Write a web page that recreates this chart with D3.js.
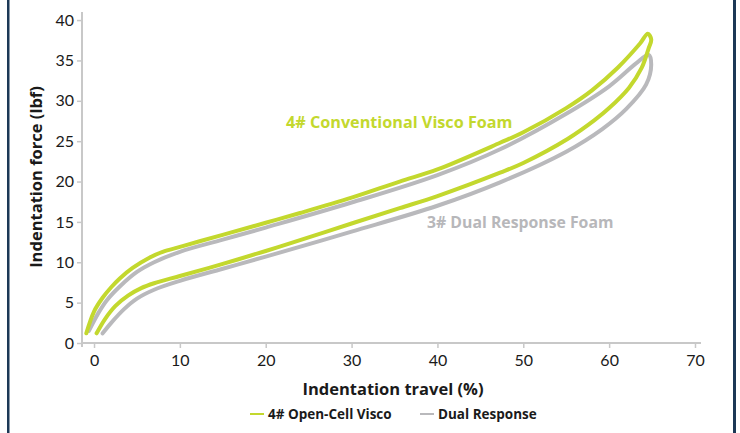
<!DOCTYPE html>
<html>
<head>
<meta charset="utf-8">
<script src="https://cdn.jsdelivr.net/npm/d3@7"></script>
<style>
  body { margin: 0; background: #fff; }
  svg { display: block; font-family: "Open Sans", Lato, sans-serif; }
</style>
</head>
<body>
<svg id="chart" width="740" height="433"></svg>
<script>
// Hysteresis loops, [travel %, force lbf], loading then unloading
const viscoLoop = [
  [-0.9, 1.2], [0, 3.9], [1, 5.6], [2, 6.9], [3, 8.0], [4.5, 9.3], [6.5, 10.6],
  [8, 11.3], [10, 11.9], [12.3, 12.6], [16, 13.7], [20, 14.9], [24, 16.1],
  [30, 18.0], [35.6, 20.0], [40, 21.5], [47.3, 24.8], [50, 26.1], [55, 29.1],
  [58, 31.3], [61, 34.1], [63.6, 37.1], [64.5, 38.3], [64.9, 37.6], [64.6, 36.5],
  [63.8, 34.1], [62.3, 31.6], [60, 29.1], [58.3, 27.6], [55.2, 25.3], [50, 22.3],
  [47.3, 21.1], [40, 18.2], [35.6, 16.7], [30, 14.8], [23, 12.4], [20, 11.4],
  [15, 9.8], [10, 8.3], [7, 7.4], [5.5, 6.8], [4, 5.9], [2.5, 4.6], [1.3, 3.0],
  [0.3, 1.2]
]
const dualLoop = [
  [-0.6, 1.5], [0.5, 3.7], [1.5, 5.3], [3, 7.0], [5, 8.8], [7, 10.0], [10, 11.3],
  [15, 12.8], [20, 14.3], [30, 17.4], [40, 20.8], [47.3, 24.0], [55, 28.4],
  [60, 31.8], [63.1, 34.6], [64.6, 35.7], [64.9, 34.5], [64.3, 32.0], [62, 29.0],
  [59.2, 26.5], [55, 23.7], [47.3, 19.9], [40, 17.0], [30, 13.8], [20, 10.7],
  [15, 9.2], [10, 7.7], [7, 6.6], [5, 5.5], [3.5, 4.2], [2, 2.5], [1, 1.2]
]
const seriesNames = ['4# Open-Cell Visco', 'Dual Response']
const seriesColors = ['#c3d82e', '#b9b9bc']
const xTicks = [0, 10, 20, 30, 40, 50, 60, 70]
const yTicks = [0, 5, 10, 15, 20, 25, 30, 35, 40]

const svg = d3.select('#chart')

// Side borders of the card
svg.append('rect').attr('x', 7).attr('y', 0).attr('width', 2.5).attr('height', 433).attr('fill', '#1c3856')
svg.append('rect').attr('x', 733).attr('y', 0).attr('width', 3).attr('height', 433).attr('fill', '#1c3856')

const xScale = d3.scaleLinear().domain([-1.4, 70.7]).range([82, 701])
const yScale = d3.scaleLinear().domain([0, 41]).range([343, 12])

// Axes
const xAxis = svg.append('g')
  .attr('transform', 'translate(0,' + yScale(0) + ')')
  .call(d3.axisBottom(xScale).tickValues(xTicks).tickSize(5).tickSizeOuter(0))
const yAxis = svg.append('g')
  .attr('transform', 'translate(' + xScale(-1.4) + ',0)')
  .call(d3.axisLeft(yScale).tickValues(yTicks).tickSize(5).tickSizeOuter(0))

xAxis.select('.domain').remove()
yAxis.select('.domain').remove()
svg.append('line')
  .attr('x1', xScale(-1.4)).attr('x2', xScale(70.7))
  .attr('y1', yScale(0)).attr('y2', yScale(0))
  .attr('stroke', '#c8c8c8').attr('stroke-width', 2)
svg.append('line')
  .attr('x1', xScale(-1.4)).attr('x2', xScale(-1.4))
  .attr('y1', yScale(0) + 4).attr('y2', yScale(41))
  .attr('stroke', '#c8c8c8').attr('stroke-width', 2)

svg.selectAll('.tick line').attr('stroke', '#c8c8c8').attr('stroke-width', 1.5)
svg.selectAll('.tick text')
  .attr('font-family', 'Lato, sans-serif')
  .attr('font-size', 16)
  .attr('fill', '#1a1a1a')
xAxis.selectAll('.tick text').attr('dy', '0.95em')
yAxis.selectAll('.tick text').attr('x', -8)

// Loops, grey under green
const line = d3.line()
  .x((d) => xScale(d[0]))
  .y((d) => yScale(d[1]))
  .curve(d3.curveCatmullRom.alpha(0.5))

const loops = [dualLoop, viscoLoop]
const loopColors = [seriesColors[1], seriesColors[0]]
svg.append('g')
  .selectAll('path')
  .data(loops)
  .enter()
  .append('path')
  .attr('d', (d) => line(d))
  .attr('fill', 'none')
  .attr('stroke', (d, i) => loopColors[i])
  .attr('stroke-width', 4)
  .attr('stroke-linejoin', 'round')
  .attr('stroke-linecap', 'round')

// Curve labels
svg.append('text')
  .attr('x', 286).attr('y', 128)
  .attr('font-size', 16.2).attr('font-weight', 'bold')
  .attr('fill', seriesColors[0])
  .text('4# Conventional Visco Foam')
svg.append('text')
  .attr('x', 427).attr('y', 228)
  .attr('font-size', 15.8).attr('font-weight', 'bold')
  .attr('fill', '#b7b7ba')
  .text('3# Dual Response Foam')

// Axis titles
svg.append('text')
  .attr('x', 393).attr('y', 395)
  .attr('text-anchor', 'middle')
  .attr('font-size', 16.5).attr('font-weight', 'bold')
  .attr('fill', '#1a1a1a')
  .text('Indentation travel (%)')
svg.append('text')
  .attr('transform', 'translate(42,177) rotate(-90)')
  .attr('text-anchor', 'middle')
  .attr('font-size', 16.5).attr('font-weight', 'bold')
  .attr('fill', '#1a1a1a')
  .text('Indentation force (lbf)')

// Legend
const legendX = [250, 420]
const legend = svg.append('g')
  .selectAll('g')
  .data(seriesNames)
  .enter()
  .append('g')
  .attr('transform', (d, i) => 'translate(' + legendX[i] + ',414)')
legend.append('line')
  .attr('x1', 0).attr('x2', 14)
  .attr('stroke', (d, i) => seriesColors[i])
  .attr('stroke-width', 2)
legend.append('text')
  .attr('x', 18).attr('dy', '0.35em')
  .attr('font-size', 13.5).attr('font-weight', 'bold')
  .attr('fill', '#1a1a1a')
  .text((d) => d)
</script>
</body>
</html>
